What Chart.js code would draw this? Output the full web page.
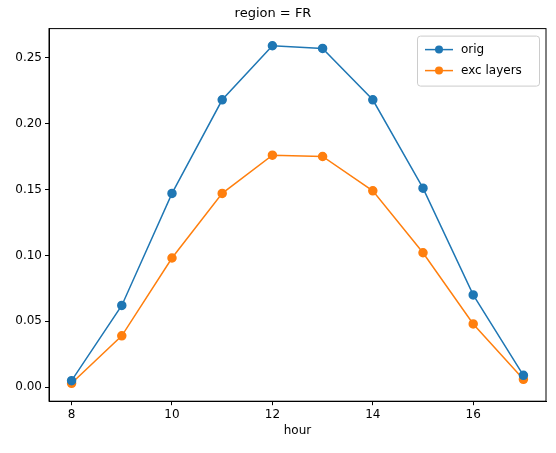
<!DOCTYPE html><html><head><script src="https://cdn.jsdelivr.net/npm/chart.js@4"></script>
<style>body{margin:0;background:#fff}</style></head><body>
<canvas id="c" width="556" height="453"></canvas>
<script>
const hours=[8,9,10,11,12,13,14,15,16,17];
const orig=[0.005,0.062,0.147,0.218,0.259,0.257,0.218,0.151,0.070,0.009];
const exc=[0.003,0.039,0.098,0.147,0.176,0.175,0.149,0.102,0.048,0.006];
const xTicks=[8,10,12,14,16];
const yTicks=[0,0.05,0.10,0.15,0.20,0.25];
const F='"DejaVu Sans"';
const mk=(label,vals,color)=>({label,data:hours.map((h,i)=>({x:h,y:vals[i]})),borderColor:color,backgroundColor:color,pointRadius:4,pointHoverRadius:4,borderWidth:1.5,tension:0});
const legendPlugin={id:'lg',afterDraw(ch){const c=ch.ctx,a=ch.chartArea;const x=a.right-129,y=a.top+7,w=122,h=50;
c.save();c.fillStyle='rgba(255,255,255,0.8)';c.strokeStyle='#ccc';c.lineWidth=1;c.beginPath();c.roundRect(x+.5,y+.5,w,h,3);c.fill();c.stroke();
c.font='12px '+F;c.textBaseline='middle';
ch.data.datasets.forEach((d,i)=>{const yy=y+14+i*21;c.strokeStyle=d.borderColor;c.lineWidth=1.5;c.beginPath();c.moveTo(x+8,yy);c.lineTo(x+36,yy);c.stroke();
c.fillStyle=d.borderColor;c.beginPath();c.arc(x+22,yy,4,0,Math.PI*2);c.fill();c.fillStyle='#000';c.fillText(d.label,x+44,yy);});c.restore();}};
const grid={display:true,drawOnChartArea:false,tickLength:4,tickColor:'#000'};
new Chart(document.getElementById('c'),{type:'line',data:{datasets:[mk('orig',orig,'#1f77b4'),mk('exc layers',exc,'#ff7f0e')]},
options:{responsive:false,animation:false,devicePixelRatio:1,layout:{padding:{right:10,top:0,bottom:11}},
plugins:{legend:{display:false},tooltip:{enabled:false},title:{display:true,text:'region = FR',font:{family:F,size:13,weight:'normal'},color:'#000',padding:{top:6,bottom:7}}},
scales:{x:{type:'linear',min:7.55,max:17.45,afterBuildTicks:s=>{s.ticks=xTicks.map(v=>({value:v}))},grid,border:{color:'#000'},ticks:{color:'#000',font:{family:F,size:12},padding:2},title:{display:true,text:'hour',color:'#000',font:{family:F,size:12},padding:{top:0}}},
y:{min:-0.0106,max:0.272,afterBuildTicks:s=>{s.ticks=yTicks.map(v=>({value:v}))},afterFit:s=>{s.width=49},grid,border:{color:'#000'},ticks:{color:'#000',font:{family:F,size:12},padding:3,callback:v=>v.toFixed(2)}}}},
plugins:[legendPlugin,{id:'box',afterDraw(ch){const c=ch.ctx,a=ch.chartArea;c.save();c.strokeStyle='#000';c.lineWidth=1;c.strokeRect(a.left,a.top,a.right-a.left,a.bottom-a.top);c.restore();}}]});
</script></body></html>
